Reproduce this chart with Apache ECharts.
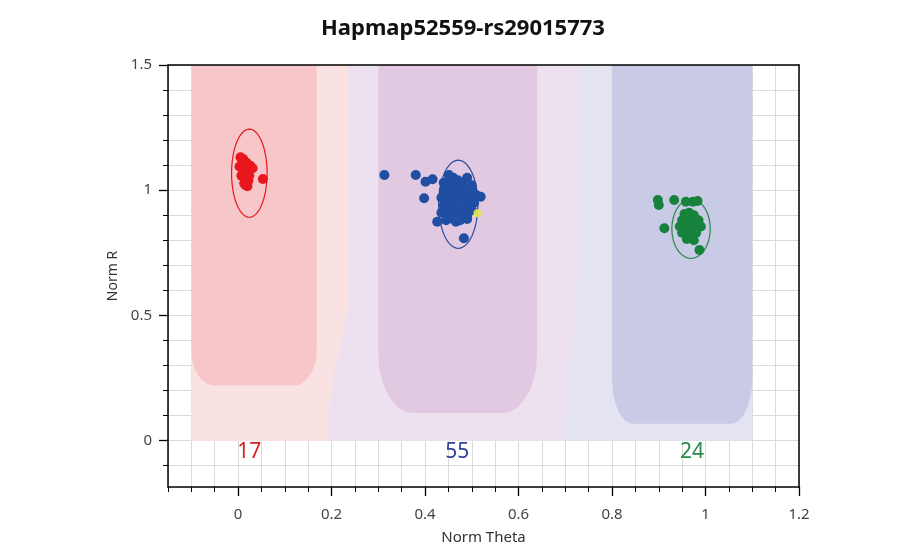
<!DOCTYPE html>
<html>
<head>
<meta charset="utf-8">
<script src="https://cdn.jsdelivr.net/npm/echarts@6/dist/echarts.min.js"></script>
<style>
  html, body { margin: 0; padding: 0; background: #fff; }
  #chart { width: 922px; height: 558px; }
</style>
</head>
<body>
<div id="chart"></div>
<script>
// axis ranges and ticks
const thetaMin = -0.15, thetaMax = 1.2;
const rMin = -0.185, rMax = 1.5;
const thetaTicks = [0, 0.2, 0.4, 0.6, 0.8, 1, 1.2];
const rTicks = [0, 0.5, 1, 1.5];
const rMinorTicks = [-0.1, 0, 0.1, 0.2, 0.3, 0.4, 0.5, 0.6, 0.7, 0.8, 0.9, 1, 1.1, 1.2, 1.3, 1.4, 1.5];

// samples (Norm Theta, Norm R)
const redPoints = [
  [0.005, 1.132], [0.011, 1.125], [0.018, 1.11], [0.026, 1.098], [0.003, 1.095],
  [0.011, 1.08], [0.02, 1.072], [0.031, 1.088], [0.007, 1.058], [0.016, 1.05],
  [0.022, 1.038], [0.013, 1.028], [0.02, 1.016], [0.009, 1.108], [0.024, 1.058],
  [0.053, 1.045], [0.016, 1.02]
];
const bluePoints = [
  [0.313, 1.061], [0.38, 1.061], [0.401, 1.034], [0.416, 1.044], [0.398, 0.968],
  [0.426, 0.874], [0.483, 0.808], [0.466, 0.874], [0.519, 0.974], [0.451, 1.061],
  [0.44, 1.03], [0.45, 1.04], [0.46, 1.05], [0.47, 1.04], [0.48, 1.03], [0.49, 1.05], [0.5, 1.02],
  [0.44, 1.0], [0.45, 0.99], [0.46, 1.01], [0.47, 1.0], [0.48, 1.01], [0.49, 0.99], [0.5, 1.0], [0.51, 0.98],
  [0.435, 0.97], [0.445, 0.96], [0.455, 0.97], [0.465, 0.96], [0.475, 0.97], [0.485, 0.96], [0.495, 0.97], [0.505, 0.95],
  [0.44, 0.94], [0.45, 0.93], [0.46, 0.94], [0.47, 0.93], [0.48, 0.94], [0.49, 0.93], [0.5, 0.92],
  [0.435, 0.91], [0.45, 0.9], [0.46, 0.91], [0.47, 0.9], [0.48, 0.91], [0.49, 0.9],
  [0.445, 0.88], [0.46, 0.885], [0.475, 0.88], [0.49, 0.885],
  [0.455, 1.025], [0.475, 1.02], [0.465, 0.985], [0.455, 0.95], [0.475, 0.945]
];
const greenPoints = [
  [0.898, 0.961], [0.9, 0.941], [0.933, 0.961], [0.958, 0.954], [0.973, 0.954],
  [0.983, 0.957], [0.912, 0.848], [0.987, 0.761],
  [0.955, 0.905], [0.965, 0.91], [0.975, 0.9], [0.95, 0.88], [0.96, 0.885], [0.97, 0.875],
  [0.985, 0.88], [0.945, 0.855], [0.96, 0.86], [0.975, 0.85], [0.99, 0.855], [0.95, 0.83],
  [0.965, 0.825], [0.98, 0.83], [0.96, 0.805], [0.975, 0.8]
];
const yellowPoints = [[0.512, 0.908]];

// cluster ellipses: centre theta, centre R, half width, half height
const ellipseCx = [0.024, 0.471, 0.969];
const ellipseCy = [1.068, 0.944, 0.846];
const ellipseRx = [0.038, 0.042, 0.041];
const ellipseRy = [0.176, 0.176, 0.118];

// genotype counts
const countText = ['17', '55', '24'];
const countTheta = [0.024, 0.469, 0.971];
const countR = -0.047;

// call regions
const bandLeft = -0.1, bandRight = 1.1, bandTop = 1.5;
const boundaryAB = [[0.233, 1.5], [0.233, 0.52], [0.228, 0.45], [0.218, 0.37], [0.208, 0.3], [0.199, 0.2], [0.194, 0.1], [0.19, 0]];
const boundaryBB = [[0.73, 1.5], [0.73, 0.7], [0.725, 0.55], [0.718, 0.45], [0.708, 0.26], [0.7, 0.12], [0.694, 0]];
const boxX0 = [-0.1, 0.3, 0.8];
const boxX1 = [0.168, 0.64, 1.1];
const boxBottom = [0.22, 0.11, 0.068];
const boxCornerX = [0.05, 0.075, 0.045];
const boxCornerY = [0.14, 0.24, 0.18];

const colRed = '#e8171d', colBlue = '#1f4ea3', colGreen = '#17823c';
const fontFam = '"Noto Sans", "Open Sans", sans-serif';

function boxPoly(i) {
  const x0 = boxX0[i], x1 = boxX1[i], yb = boxBottom[i], rx = boxCornerX[i], ry = boxCornerY[i];
  const pts = [[x0, bandTop]];
  const n = 14;
  for (let k = 0; k <= n; k++) {
    const a = Math.PI / 2 * k / n;
    pts.push([x0 + rx - rx * Math.cos(a), yb + ry - ry * Math.sin(a)]);
  }
  for (let k = 0; k <= n; k++) {
    const a = Math.PI / 2 * k / n;
    pts.push([x1 - rx + rx * Math.sin(a), yb + ry - ry * Math.cos(a)]);
  }
  pts.push([x1, bandTop]);
  return pts;
}

const regions = [
  { fill: '#e3e3f2', pts: [[bandLeft, 0], [bandLeft, bandTop], [bandRight, bandTop], [bandRight, 0]] },
  { fill: '#eee1ef', pts: [[bandLeft, 0], [bandLeft, bandTop]].concat(boundaryBB) },
  { fill: '#fbe2e2', pts: [[bandLeft, 0], [bandLeft, bandTop]].concat(boundaryAB) },
  { fill: '#f7c6c8', pts: boxPoly(0) },
  { fill: '#e1c9e1', pts: boxPoly(1) },
  { fill: '#c9cae5', pts: boxPoly(2) }
];

const chart = echarts.init(document.getElementById('chart'));

const gridBox = { left: 168, right: 123, top: 65, bottom: 71 };
const axisLineStyle = { color: '#000', width: 1.5 };

const option = {
  animation: false,
  title: {
    text: 'Hapmap52559-rs29015773',
    left: 316,
    top: 13,
    textStyle: { fontFamily: fontFam, fontSize: 22, fontWeight: 'bold', color: '#111' }
  },
  grid: [
    Object.assign({}, gridBox),
    Object.assign({}, gridBox)
  ],
  xAxis: [
    {
      gridIndex: 0, type: 'value', min: thetaMin, max: thetaMax, interval: 0.05, position: 'bottom',
      axisLine: { show: false, onZero: false },
      axisTick: { show: true, length: 5, lineStyle: { color: '#000' } },
      axisLabel: { show: false },
      splitLine: { show: true, lineStyle: { color: '#dadada', width: 1 } }
    },
    {
      gridIndex: 1, type: 'value', min: thetaMin, max: thetaMax, position: 'bottom', z: 10,
      axisLine: { show: true, onZero: false, lineStyle: axisLineStyle },
      axisTick: { show: true, length: 9, customValues: thetaTicks, lineStyle: { color: '#000', width: 1.3 } },
      axisLabel: { show: true, customValues: thetaTicks, margin: 20, fontSize: 15, color: '#444', fontFamily: fontFam },
      splitLine: { show: false },
      name: 'Norm Theta', nameLocation: 'middle', nameGap: 43,
      nameTextStyle: { fontSize: 15, color: '#333', fontFamily: fontFam }
    },
    {
      gridIndex: 1, type: 'value', min: thetaMin, max: thetaMax, position: 'top', z: 10,
      axisLine: { show: true, onZero: false, lineStyle: axisLineStyle },
      axisTick: { show: false }, axisLabel: { show: false }, splitLine: { show: false }
    }
  ],
  yAxis: [
    {
      gridIndex: 0, type: 'value', min: rMin, max: rMax, position: 'left',
      axisLine: { show: false, onZero: false },
      axisTick: { show: true, length: 5, customValues: rMinorTicks, lineStyle: { color: '#000' } },
      axisLabel: { show: false },
      splitLine: { show: true, lineStyle: { color: '#dadada', width: 1 } }
    },
    {
      gridIndex: 1, type: 'value', min: rMin, max: rMax, position: 'left', z: 10,
      axisLine: { show: true, onZero: false, lineStyle: axisLineStyle },
      axisTick: { show: true, length: 9, customValues: rTicks, lineStyle: { color: '#000', width: 1.3 } },
      axisLabel: { show: true, customValues: rTicks, margin: 16, fontSize: 15, color: '#444', fontFamily: fontFam },
      splitLine: { show: false },
      name: 'Norm R', nameLocation: 'middle', nameGap: 39,
      nameTextStyle: { fontSize: 14, color: '#333', fontFamily: fontFam }
    },
    {
      gridIndex: 1, type: 'value', min: rMin, max: rMax, position: 'right', z: 10,
      axisLine: { show: true, onZero: false, lineStyle: axisLineStyle },
      axisTick: { show: false }, axisLabel: { show: false }, splitLine: { show: false }
    }
  ],
  series: [
    {
      type: 'custom', xAxisIndex: 0, yAxisIndex: 0, silent: true, z: 1,
      data: regions.map((r, i) => [i]),
      encode: { x: -1, y: -1 },
      renderItem: function (params, api) {
        const r = regions[params.dataIndex];
        return {
          type: 'polygon',
          shape: { points: r.pts.map(p => api.coord(p)) },
          style: { fill: r.fill, stroke: null }
        };
      }
    },
    {
      type: 'custom', xAxisIndex: 0, yAxisIndex: 0, silent: true, z: 3,
      data: ellipseCx.map((c, i) => [i]),
      encode: { x: -1, y: -1 },
      renderItem: function (params, api) {
        const i = params.dataIndex;
        const cols = [colRed, '#2a4c9e', '#278a45'];
        const pts = [];
        for (let k = 0; k < 72; k++) {
          const a = 2 * Math.PI * k / 72;
          pts.push(api.coord([ellipseCx[i] + ellipseRx[i] * Math.cos(a), ellipseCy[i] + ellipseRy[i] * Math.sin(a)]));
        }
        return {
          type: 'polygon',
          shape: { points: pts },
          style: { fill: null, stroke: cols[i], lineWidth: 1.2 }
        };
      }
    },
    {
      type: 'scatter', xAxisIndex: 0, yAxisIndex: 0, silent: true, z: 4,
      symbolSize: 10, data: redPoints, itemStyle: { color: colRed, opacity: 1 }
    },
    {
      type: 'scatter', xAxisIndex: 0, yAxisIndex: 0, silent: true, z: 4,
      symbolSize: 10, data: bluePoints, itemStyle: { color: colBlue, opacity: 1 }
    },
    {
      type: 'scatter', xAxisIndex: 0, yAxisIndex: 0, silent: true, z: 4,
      symbolSize: 10, data: greenPoints, itemStyle: { color: colGreen, opacity: 1 }
    },
    {
      type: 'scatter', xAxisIndex: 0, yAxisIndex: 0, silent: true, z: 5,
      symbolSize: 8, data: yellowPoints, itemStyle: { color: '#e6e84a', opacity: 0.9 }
    },
    {
      type: 'custom', xAxisIndex: 0, yAxisIndex: 0, silent: true, z: 6,
      data: countText.map((t, i) => [i]),
      encode: { x: -1, y: -1 },
      renderItem: function (params, api) {
        const i = params.dataIndex;
        const p = api.coord([countTheta[i], countR]);
        return {
          type: 'text',
          x: p[0], y: p[1],
          style: {
            text: countText[i],
            fill: ['#d42028', '#33439a', '#2a874a'][i],
            font: '21px ' + fontFam,
            align: 'center', verticalAlign: 'middle'
          }
        };
      }
    }
  ]
};

chart.setOption(option);
</script>
</body>
</html>
